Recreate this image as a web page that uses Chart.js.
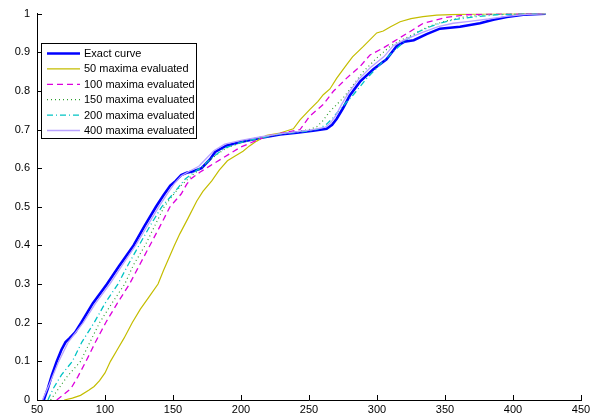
<!DOCTYPE html>
<html>
<head>
<meta charset="utf-8">
<script src="https://cdn.jsdelivr.net/npm/chart.js@4"></script>
<style>
  body { margin: 0; background: #fff; }
  #wrap { width: 604px; height: 417px; }
</style>
</head>
<body>
<div id="wrap"><canvas id="cdfChart" width="604" height="417"></canvas></div>
<script>
// axis ticks
const xTicks = [50, 100, 150, 200, 250, 300, 350, 400, 450];
const yTicks = [0, 0.1, 0.2, 0.3, 0.4, 0.5, 0.6, 0.7, 0.8, 0.9, 1];

const seriesNames = ["Exact curve", "50 maxima evaluated", "100 maxima evaluated",
  "150 maxima evaluated", "200 maxima evaluated", "400 maxima evaluated"];

// cumulative curves as [x, y] pairs
const exactCurve = [[55,0],[58,0.03],[61,0.065],[64.5,0.1],[68,0.13],[71,0.15],[74,0.16],[78,0.175],[82.5,0.2],[91,0.25],[101.5,0.3],[110,0.345],[121,0.4],[129,0.45],[137.5,0.5],[143,0.53],[148,0.555],[152,0.567],[156,0.582],[160,0.588],[165,0.592],[171,0.6],[177,0.622],[181,0.642],[189.5,0.659],[201.5,0.669],[214,0.678],[228.7,0.687],[241,0.692],[253,0.697],[263,0.702],[267,0.712],[270.4,0.728],[275,0.755],[280,0.788],[287.5,0.824],[297.3,0.856],[307,0.882],[314.5,0.916],[320,0.927],[327,0.931],[336.5,0.947],[346.3,0.961],[361,0.966],[375.7,0.975],[385.5,0.984],[395.4,0.991],[407.6,0.997],[424,1]];

const max50 = [[70,0],[76,0.005],[82,0.012],[88,0.025],[92,0.035],[96,0.05],[100,0.07],[104,0.1],[109,0.13],[114,0.16],[120,0.2],[126,0.235],[132,0.265],[139,0.3],[143,0.335],[151,0.4],[155,0.43],[161,0.47],[167.5,0.515],[172,0.54],[178.5,0.567],[184,0.595],[190,0.619],[196,0.632],[201.5,0.644],[206,0.657],[211.5,0.67],[219,0.685],[228.7,0.691],[238.5,0.702],[243.4,0.725],[250.7,0.752],[256.6,0.773],[260.5,0.79],[265.4,0.805],[270.4,0.833],[277.7,0.868],[282,0.888],[290,0.915],[299.8,0.95],[304.6,0.955],[310,0.966],[317,0.979],[325,0.987],[333.8,0.992],[343.9,0.996],[360,0.998],[380,0.999],[424,1]];

const max100 = [[64.5,0],[70,0.015],[75,0.03],[80,0.06],[86,0.1],[93,0.15],[100.5,0.2],[109,0.25],[118,0.3],[124,0.34],[133,0.4],[140.5,0.45],[147.8,0.5],[156,0.533],[160,0.558],[163,0.572],[170,0.59],[177.2,0.606],[187,0.627],[200,0.655],[219,0.683],[232,0.692],[243.4,0.7],[250.7,0.735],[260.5,0.765],[267.9,0.799],[277.7,0.833],[287.5,0.863],[294.9,0.893],[304.6,0.911],[317,0.938],[325,0.955],[334,0.975],[343.9,0.984],[351,0.99],[366,0.997],[385,0.999],[424,1]];

const max150 = [[60,0],[66,0.03],[72,0.06],[82,0.1],[89,0.15],[96,0.2],[105,0.25],[114.5,0.3],[121,0.35],[129.5,0.4],[136.5,0.45],[143.5,0.5],[151,0.535],[156,0.555],[161,0.572],[166,0.587],[172,0.603],[179,0.627],[189,0.652],[200,0.666],[213,0.677],[228,0.688],[242,0.695],[250,0.7],[255.7,0.707],[260,0.722],[265.4,0.747],[275.2,0.782],[282.6,0.816],[290,0.85],[299.8,0.885],[309.6,0.915],[318,0.932],[326.7,0.946],[334,0.96],[341.4,0.971],[350,0.98],[363.5,0.991],[380,0.997],[400,0.999],[424,1]];

const max200 = [[58,0],[62,0.03],[68,0.065],[76,0.1],[83,0.15],[92,0.2],[100,0.25],[109.5,0.3],[117,0.35],[125,0.4],[133,0.45],[141.7,0.5],[150,0.533],[155,0.555],[159,0.572],[165,0.588],[171,0.603],[178,0.625],[188,0.652],[200,0.667],[213,0.677],[228,0.688],[242,0.693],[252,0.697],[258,0.703],[263,0.714],[267.5,0.73],[272.8,0.752],[282.6,0.79],[292.4,0.832],[302.2,0.868],[312,0.902],[321.8,0.933],[330,0.952],[339,0.966],[347,0.976],[356,0.984],[373,0.992],[388,0.997],[405,0.999],[424,1]];

const max400 = [[54,0],[59,0.04],[66,0.1],[73,0.15],[84,0.2],[93,0.25],[103.5,0.3],[112,0.345],[122.5,0.4],[131,0.45],[139.5,0.5],[146,0.535],[151,0.56],[156,0.58],[162,0.592],[169,0.605],[175,0.627],[180,0.645],[188,0.662],[200,0.672],[213,0.68],[228,0.689],[240,0.694],[252,0.699],[262,0.706],[266,0.718],[269.5,0.735],[274,0.765],[279,0.795],[286,0.828],[295,0.86],[305,0.888],[312,0.917],[320,0.932],[334,0.952],[345,0.966],[356,0.975],[368,0.98],[382,0.986],[395,0.993],[410,0.998],[424,1]];

const curves = [exactCurve, max50, max100, max150, max200, max400];
const colors = ["#0000ff", "#c4bd00", "#dd00dd", "#2e9e2e", "#00c4c4", "#b9a2ff"];
const widths = [2.6, 1.2, 1.3, 1.2, 1.3, 1.3];
const dashes = [[], [], [6, 4], [1, 3], [6, 3, 1, 3], []];

const FONT = "'Liberation Sans', Arial, Helvetica, sans-serif";

const datasets = curves.map((c, i) => ({
  label: seriesNames[i],
  data: c.map(p => ({ x: p[0], y: p[1] })),
  borderColor: colors[i],
  borderWidth: widths[i],
  borderDash: dashes[i],
  pointRadius: 0,
  fill: false,
  tension: 0,
  order: curves.length - i   // later series drawn on top
}));

// inward tick marks + boxed legend in the upper left
const matlabAxes = {
  id: "matlabAxes",
  afterDraw(chart) {
    const ctx = chart.ctx;
    const xs = chart.scales.x, ys = chart.scales.y;
    const area = chart.chartArea;
    ctx.save();
    ctx.strokeStyle = "#000";
    ctx.lineWidth = 1;
    ctx.beginPath();
    xTicks.forEach(v => {
      const px = Math.round(xs.getPixelForValue(v)) + 0.5;
      ctx.moveTo(px, area.bottom);
      ctx.lineTo(px, area.bottom - 5);
    });
    yTicks.forEach(v => {
      const py = Math.round(ys.getPixelForValue(v)) + 0.5;
      ctx.moveTo(area.left, py);
      ctx.lineTo(area.left + 5, py);
    });
    ctx.stroke();

    // legend
    const bx = 41.5, by = 43.5, bw = 155, bh = 95;
    ctx.fillStyle = "#fff";
    ctx.fillRect(bx, by, bw, bh);
    ctx.strokeStyle = "#000";
    ctx.lineWidth = 1;
    ctx.strokeRect(bx, by, bw, bh);
    ctx.font = "11px " + FONT;
    ctx.textBaseline = "middle";
    ctx.textAlign = "left";
    chart.data.datasets.forEach((ds, i) => {
      const y = 53.5 + i * 15.4;
      ctx.beginPath();
      ctx.setLineDash(ds.borderDash);
      ctx.strokeStyle = ds.borderColor;
      ctx.lineWidth = ds.borderWidth;
      ctx.moveTo(47, y);
      ctx.lineTo(80, y);
      ctx.stroke();
      ctx.setLineDash([]);
      ctx.fillStyle = "#000";
      ctx.fillText(ds.label, 84, y + 0.5);
    });
    ctx.restore();
  }
};

new Chart(document.getElementById("cdfChart"), {
  type: "line",
  data: { datasets: datasets },
  options: {
    responsive: false,
    animation: false,
    layout: { padding: { top: 12, right: 23, left: 0, bottom: 0 } },
    plugins: { legend: { display: false }, tooltip: { enabled: false } },
    scales: {
      x: {
        type: "linear",
        min: 50, max: 450,
        afterBuildTicks: s => { s.ticks = xTicks.map(v => ({ value: v })); },
        afterFit: s => { s.height = 17; },
        grid: { display: false, drawTicks: false },
        border: { display: true, color: "#000", width: 1 },
        ticks: { color: "#000", padding: 3, maxRotation: 0, font: { family: FONT, size: 11 },
                 callback: v => String(v) }
      },
      y: {
        type: "linear",
        min: 0, max: 1,
        afterBuildTicks: s => { s.ticks = yTicks.map(v => ({ value: v })); },
        afterFit: s => { s.width = 37; },
        grid: { display: false, drawTicks: false },
        border: { display: true, color: "#000", width: 1 },
        ticks: { color: "#000", padding: 7, font: { family: FONT, size: 11 },
                 callback: v => String(v) }
      }
    }
  },
  plugins: [matlabAxes]
});
</script>
</body>
</html>
